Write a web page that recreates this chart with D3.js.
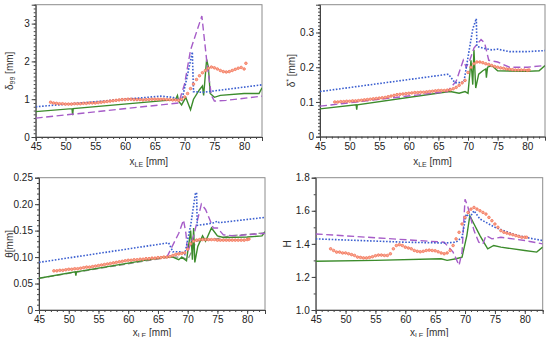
<!DOCTYPE html>
<html>
<head>
<meta charset="utf-8">
<script src="https://cdn.jsdelivr.net/npm/d3@7"></script>
<style>
  body { margin: 0; background: #fff; }
  svg { font-family: "Liberation Sans", Arial, sans-serif; }
</style>
</head>
<body>
<div id="chart"></div>
<script>
// ---- data ----
var xTicks = [45, 50, 55, 60, 65, 70, 75, 80];

// measured points, shared x positions
var expX = [47.5,48,48.5,49,49.5,50,50.5,51,51.5,52,52.5,53,53.5,54,54.5,55,55.5,56,56.5,57,57.5,58,58.5,59,59.5,60,60.5,61,61.5,62,62.5,63,63.5,64,64.5,65,65.5,66,66.5,67,67.5,68,68.5,69,69.5,70,70.5,71,71.5,72,72.5,73,73.5,74,74.5,75,75.5,76,76.5,77,77.5,78,78.5,79,79.5,80,80.3];

// panel 1: delta99
var d99Exp = [0.92,0.9,0.89,0.88,0.88,0.87,0.87,0.87,0.88,0.88,0.88,0.89,0.89,0.9,0.9,0.9,0.91,0.92,0.93,0.94,0.95,0.96,0.97,0.98,0.99,0.99,1.0,1.0,0.99,0.99,0.99,0.98,0.99,0.99,1.0,1.0,1.0,1.0,1.0,0.99,0.99,0.98,0.98,0.97,1.0,1.06,1.15,1.28,1.4,1.52,1.62,1.7,1.76,1.82,1.85,1.83,1.8,1.76,1.73,1.72,1.73,1.76,1.79,1.82,1.84,1.8,1.95];
var d99Blue = [[45,0.8],[66,1.08],[68,1.05],[69.5,0.95],[70.3,1.5],[71.3,2.25],[71.5,1.2],[73,1.18],[75,1.22],[83,1.38]];
var d99Purple = [[45,0.5],[69,0.9],[70,1.4],[71,2.3],[72.9,3.2],[73.8,1.9],[74.5,1.1],[75,0.95],[77,0.97],[83,1.08]];
var d99Green = [[45,0.67],[51.1,0.75],[51.2,0.58],[51.3,0.75],[67,0.97],[68.5,1.0],[68.8,1.1],[69,0.95],[69.5,0.85],[70.2,1.05],[71,0.72],[71.5,1.0],[72.5,1.25],[73,1.35],[73.2,1.1],[73.7,2.05],[74,1.85],[74.3,1.15],[75,1.05],[76,1.1],[80,1.15],[82.5,1.15],[83,1.3]];

// panel 2: delta*
var dStarExp = [0.1,0.1,0.101,0.101,0.102,0.102,0.103,0.103,0.104,0.105,0.106,0.107,0.108,0.109,0.11,0.111,0.112,0.113,0.115,0.117,0.119,0.121,0.122,0.123,0.124,0.125,0.126,0.127,0.127,0.128,0.128,0.129,0.13,0.131,0.132,0.133,0.133,0.133,0.134,0.135,0.138,0.142,0.148,0.155,0.162,0.185,0.2,0.21,0.215,0.215,0.213,0.21,0.208,0.205,0.202,0.2,0.198,0.197,0.195,0.194,0.193,0.192,0.192,0.192,0.192,0.191,0.192];
var dStarBlue = [[45,0.13],[66.7,0.18],[67.8,0.155],[69.3,0.157],[70.2,0.25],[70.8,0.31],[71.4,0.34],[71.5,0.26],[72.5,0.255],[74,0.25],[75,0.252],[77,0.245],[80,0.245],[83,0.248]];
var dStarPurple = [[45,0.088],[66.5,0.13],[68,0.16],[69.2,0.22],[69.7,0.2],[70.3,0.22],[71,0.255],[72.2,0.28],[72.8,0.27],[73.5,0.22],[75,0.215],[77,0.2],[80,0.2],[83,0.205]];
var dStarGreen = [[45,0.08],[51.1,0.092],[51.2,0.078],[51.3,0.092],[66,0.128],[67,0.13],[68.5,0.125],[69.5,0.13],[70,0.125],[70.5,0.22],[70.8,0.15],[71,0.25],[71.3,0.14],[71.8,0.18],[72.5,0.19],[73,0.195],[73.1,0.17],[73.3,0.2],[74,0.205],[75,0.19],[80,0.188],[82,0.19],[83,0.205]];

// panel 3: theta
var thetaExp = [0.074,0.074,0.075,0.075,0.076,0.077,0.077,0.078,0.078,0.079,0.08,0.081,0.081,0.082,0.083,0.084,0.085,0.086,0.087,0.088,0.089,0.09,0.091,0.092,0.093,0.094,0.094,0.095,0.095,0.096,0.096,0.097,0.097,0.098,0.098,0.099,0.099,0.1,0.1,0.101,0.103,0.105,0.106,0.107,0.108,0.115,0.125,0.13,0.132,0.133,0.133,0.133,0.133,0.133,0.133,0.132,0.132,0.132,0.132,0.132,0.132,0.132,0.132,0.132,0.132,0.133,0.134];
var thetaBlue = [[45,0.09],[66.8,0.127],[67.5,0.11],[69,0.11],[69.5,0.105],[70.5,0.16],[71.3,0.22],[71.5,0.222],[71.6,0.16],[73,0.162],[74.5,0.165],[75,0.168],[75.3,0.165],[83,0.175]];
var thetaPurple = [[66.5,0.1],[68.5,0.145],[69.3,0.17],[69.7,0.145],[70,0.11],[71,0.14],[72.3,0.2],[73,0.19],[74.3,0.155],[75,0.155],[76,0.142],[78,0.14],[83,0.145]];
var thetaGray = [[45,0.06],[67,0.1],[69,0.1],[70,0.095],[71.5,0.13],[75,0.135],[77,0.14],[83,0.146]];
var thetaGreen = [[45,0.06],[51.1,0.072],[51.2,0.065],[51.3,0.072],[66,0.1],[67.5,0.1],[68.5,0.095],[69,0.1],[69.8,0.093],[70.5,0.15],[70.8,0.095],[71,0.155],[71.2,0.09],[71.7,0.12],[72.5,0.14],[73,0.13],[74,0.155],[75,0.14],[76,0.137],[80,0.138],[82.5,0.14],[83,0.148]];

// panel 4: H
var hExp = [1.37,1.36,1.35,1.35,1.345,1.345,1.34,1.335,1.33,1.32,1.318,1.315,1.315,1.318,1.322,1.328,1.332,1.332,1.33,1.33,1.34,1.37,1.39,1.395,1.39,1.38,1.375,1.37,1.36,1.355,1.352,1.355,1.36,1.362,1.36,1.358,1.352,1.345,1.34,1.345,1.36,1.39,1.43,1.47,1.52,1.56,1.59,1.61,1.62,1.61,1.6,1.59,1.58,1.56,1.54,1.52,1.5,1.48,1.47,1.465,1.46,1.455,1.45,1.445,1.44,1.44,1.44];
var hBlue = [[45,1.43],[60,1.41],[66.5,1.405],[68.5,1.41],[69.5,1.44],[70.2,1.58],[70.8,1.56],[71.5,1.6],[72.5,1.55],[75,1.5],[78,1.46],[80,1.44],[83,1.42]];
var hPurple = [[45,1.46],[66.5,1.41],[68,1.35],[69,1.27],[69.5,1.35],[70,1.67],[70.5,1.62],[71.5,1.48],[72.3,1.41],[73,1.4],[73.5,1.45],[74.5,1.43],[76,1.44],[78,1.43],[80,1.42],[83,1.4]];
var hGreen = [[45,1.295],[55,1.3],[66,1.31],[67,1.3],[68.5,1.31],[69.5,1.32],[70.3,1.45],[70.8,1.57],[71.5,1.52],[72.5,1.45],[73.3,1.4],[73.8,1.37],[74.8,1.39],[76,1.38],[80,1.36],[82,1.35],[83,1.38]];

// ---- layout ----
var W = 549, H = 337;
var svg = d3.select("#chart").append("svg").attr("width", W).attr("height", H);

var colors = { blue: "#3b5fd0", purple: "#a65cc8", green: "#3c8c2c", red: "#f2694c", gray: "#8a8a8a" };

var panels = [
  { box: [35.7, 4.7, 262, 137], y: [0, 3.5], yTicks: [0, 1, 2, 3], yMinor: 0.1, fmt: d3.format("d"),
    ylab: ["δ", "99", " [mm]"], ylabX: 9, xlabY: 165,
    lines: [[d99Green, "green"], [d99Purple, "purple"], [d99Blue, "blue"]], exp: d99Exp },
  { box: [320, 4.7, 545, 136.7], y: [0, 0.38], yTicks: [0, 0.1, 0.2, 0.3], yMinor: 0.01, fmt: function(d) { return d === 0 ? "0" : d3.format(".1f")(d); },
    ylab: ["δ", "*", " [mm]"], sup: true, ylabX: 291, xlabY: 165,
    lines: [[dStarGreen, "green"], [dStarPurple, "purple"], [dStarBlue, "blue"]], exp: dStarExp },
  { box: [39, 177.7, 265, 310], y: [0, 0.25], yTicks: [0, 0.05, 0.1, 0.15, 0.2, 0.25], yMinor: 0.01, fmt: function(d) { return d === 0 ? "0" : d3.format(".2f")(d); },
    ylab: ["θ[mm]", "", ""], ylabX: 9, xlabY: 335.5,
    lines: [[thetaGray, "gray"], [thetaGreen, "green"], [thetaPurple, "purple"], [thetaBlue, "blue"]], exp: thetaExp },
  { box: [315.7, 177.7, 542.7, 310], y: [1.0, 1.8], yTicks: [1.0, 1.2, 1.4, 1.6, 1.8], yMinor: 0.1, fmt: d3.format(".1f"),
    ylab: ["H", "", ""], ylabX: 287, xlabY: 335.5,
    lines: [[hGreen, "green"], [hPurple, "purple"], [hBlue, "blue"]], exp: hExp }
];

var dash = { blue: "1.6,1.6", purple: "7,3.5", green: null, gray: "6,3" };
var widths = { blue: 1.6, purple: 1.4, green: 1.4, gray: 1.2 };

panels.forEach(function(p) {
  var x0 = p.box[0], y0 = p.box[1], x1 = p.box[2], y1 = p.box[3];
  var x = d3.scaleLinear().domain([45, 83]).range([x0, x1]);
  var y = d3.scaleLinear().domain(p.y).range([y1, y0]);
  var g = svg.append("g");

  // frame
  g.append("rect").attr("x", x0).attr("y", y0).attr("width", x1 - x0).attr("height", y1 - y0)
    .attr("fill", "none").attr("stroke", "#8c8c8c").attr("stroke-width", 1);

  // clip
  var cid = "clip" + Math.round(x0) + "_" + Math.round(y0);
  svg.append("clipPath").attr("id", cid).append("rect")
    .attr("x", x0).attr("y", y0).attr("width", x1 - x0).attr("height", y1 - y0);

  // minor ticks
  var xMinor = d3.range(45, 84, 1);
  var yMin = d3.range(p.y[0], p.y[1] + 1e-9, p.yMinor);
  g.append("g").attr("transform", "translate(0," + y1 + ")")
    .call(d3.axisBottom(x).tickValues(xMinor).tickSize(2).tickFormat(""))
    .call(function(a) { a.select(".domain").remove(); a.selectAll("line").attr("stroke", "#444"); });
  g.append("g").attr("transform", "translate(" + x0 + ",0)")
    .call(d3.axisLeft(y).tickValues(yMin).tickSize(2).tickFormat(""))
    .call(function(a) { a.select(".domain").remove(); a.selectAll("line").attr("stroke", "#444"); });

  // major ticks
  g.append("g").attr("transform", "translate(0," + y1 + ")")
    .call(d3.axisBottom(x).tickValues(xTicks).tickSize(4).tickPadding(2).tickFormat(d3.format("d")))
    .call(function(a) {
      a.select(".domain").attr("stroke", "#444");
      a.selectAll("line").attr("stroke", "#444");
      a.selectAll("text").attr("font-size", 10).attr("fill", "#222")
        .attr("font-family", "Liberation Sans, Arial, sans-serif");
    });
  g.append("g").attr("transform", "translate(" + x0 + ",0)")
    .call(d3.axisLeft(y).tickValues(p.yTicks).tickSize(4).tickPadding(2).tickFormat(p.fmt))
    .call(function(a) {
      a.select(".domain").attr("stroke", "#444");
      a.selectAll("line").attr("stroke", "#444");
      a.selectAll("text").attr("font-size", 10).attr("fill", "#222")
        .attr("font-family", "Liberation Sans, Arial, sans-serif");
    });

  // lines
  var line = d3.line().x(function(d) { return x(d[0]); }).y(function(d) { return y(d[1]); });
  var plot = g.append("g").attr("clip-path", "url(#" + cid + ")");
  p.lines.forEach(function(l) {
    plot.append("path").datum(l[0]).attr("d", line)
      .attr("fill", "none").attr("stroke", colors[l[1]])
      .attr("stroke-width", widths[l[1]])
      .attr("stroke-dasharray", dash[l[1]]);
  });

  // measured markers
  plot.selectAll("circle.exp").data(p.exp).enter().append("circle")
    .attr("class", "exp")
    .attr("cx", function(d, i) { return x(expX[i]); })
    .attr("cy", function(d) { return y(d); })
    .attr("r", 1.3)
    .attr("fill", "#f8a892").attr("stroke", colors.red).attr("stroke-width", 0.7);

  // x label
  var xl = g.append("text").attr("x", (x0 + x1) / 2).attr("y", p.xlabY)
    .attr("text-anchor", "middle").attr("font-size", 10).attr("fill", "#333");
  xl.append("tspan").text("x");
  xl.append("tspan").attr("font-size", 7).attr("dy", 2).text("LE");
  xl.append("tspan").attr("dy", -2).text(" [mm]");

  // y label
  var yc = (y0 + y1) / 2;
  var yl = g.append("text").attr("transform", "translate(" + p.ylabX + "," + yc + ") rotate(-90)")
    .attr("text-anchor", "middle").attr("font-size", 10).attr("fill", "#333").attr("dy", "0.35em");
  yl.append("tspan").text(p.ylab[0]);
  if (p.ylab[1]) {
    yl.append("tspan").attr("font-size", 7).attr("dy", p.sup ? -4 : 2).text(p.ylab[1]);
    yl.append("tspan").attr("dy", p.sup ? 4 : -2).text(p.ylab[2]);
  }
});
</script>
</body>
</html>
